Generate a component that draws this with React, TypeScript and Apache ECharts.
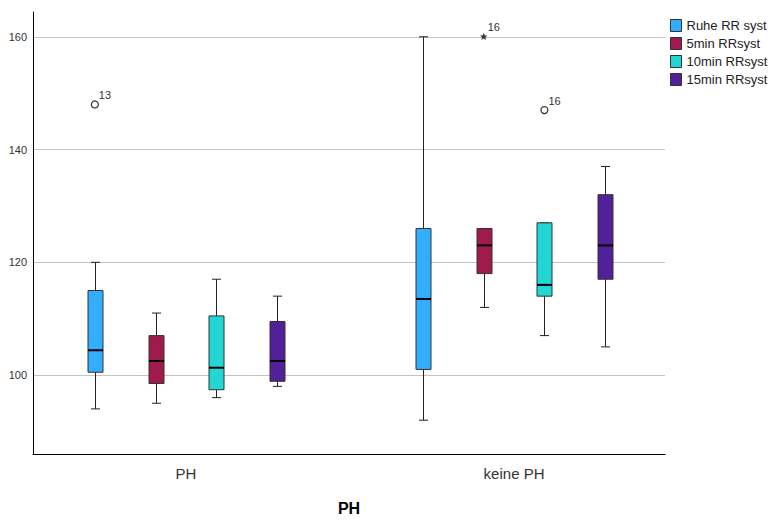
import React, { useEffect, useRef } from "react";
import * as echarts from "echarts";

const groups = ["PH", "keine PH"];
const seriesNames = ["Ruhe RR syst", "5min RRsyst", "10min RRsyst", "15min RRsyst"];
const colors = ["#33adff", "#a11a4d", "#22d7d3", "#52209a"];
// [min, q1, median, q3, max] per group (PH, keine PH)
const ruhe = [
  [94, 100.5, 104.4, 115, 120],
  [92, 101, 113.5, 126, 160],
];
const min5 = [
  [95, 98.5, 102.5, 107, 111],
  [112, 118, 123, 126, 126],
];
const min10 = [
  [96, 97.4, 101.3, 110.5, 117],
  [107, 114, 116, 127, 127],
];
const min15 = [
  [98, 98.9, 102.5, 109.5, 114],
  [105, 117, 123, 132, 137],
];
const allStats = [ruhe, min5, min10, min15];
// [groupIndex, seriesIndex, value, caseLabel, kind]
const outliers: [number, number, number, string, string][] = [
  [0, 0, 148, "13", "circle"],
  [1, 1, 160, "16", "star"],
  [1, 2, 147, "16", "circle"],
];
const yTicks = [100, 120, 140, 160];

const SLOT = 0.185;
const FONT = "Liberation Sans, Arial, sans-serif";

export default function App() {
  const ref = useRef<HTMLDivElement>(null);
  useEffect(() => {
    if (!ref.current) return;
    const chart = echarts.init(ref.current, null, { renderer: "svg" });

    const boxSeries = seriesNames.map((name, si) => ({
      name,
      type: "custom",
      itemStyle: { color: colors[si] },
      data: allStats[si].map((s, g) => [g, ...s]),
      encode: { x: 0, y: [1, 2, 3, 4, 5] },
      renderItem: (params: any, api: any) => {
        const g = api.value(0);
        const x = g + (si - 1.5) * SLOT;
        const pMin = api.coord([x, api.value(1)]);
        const pQ1 = api.coord([x, api.value(2)]);
        const pMed = api.coord([x, api.value(3)]);
        const pQ3 = api.coord([x, api.value(4)]);
        const pMax = api.coord([x, api.value(5)]);
        const cx = Math.round(pMin[0]) + 0.5;
        const hw = 7.5;
        const cap = 4.5;
        const ls = { stroke: "#222", lineWidth: 1 };
        return {
          type: "group",
          children: [
            { type: "line", shape: { x1: cx, y1: pMax[1], x2: cx, y2: pQ3[1] }, style: ls },
            { type: "line", shape: { x1: cx, y1: pQ1[1], x2: cx, y2: pMin[1] }, style: ls },
            { type: "line", shape: { x1: cx - cap, y1: pMax[1], x2: cx + cap, y2: pMax[1] }, style: ls },
            { type: "line", shape: { x1: cx - cap, y1: pMin[1], x2: cx + cap, y2: pMin[1] }, style: ls },
            {
              type: "rect",
              shape: { x: cx - hw, y: pQ3[1], width: hw * 2, height: pQ1[1] - pQ3[1] },
              style: { fill: colors[si], stroke: "#333", lineWidth: 1 },
            },
            {
              type: "line",
              shape: { x1: cx - hw, y1: pMed[1], x2: cx + hw, y2: pMed[1] },
              style: { stroke: "#000", lineWidth: 2 },
            },
          ],
        };
      },
    }));

    const outlierSeries = {
      name: "outliers",
      type: "custom",
      itemStyle: { color: "#333" },
      data: outliers.map((o) => [o[0], o[1], o[2]]),
      encode: { x: 0, y: 2 },
      renderItem: (params: any, api: any) => {
        const o = outliers[params.dataIndex];
        const x = o[0] + (o[1] - 1.5) * SLOT;
        const p = api.coord([x, o[2]]);
        const children: any[] = [];
        if (o[4] === "circle") {
          children.push({
            type: "circle",
            shape: { cx: p[0], cy: p[1], r: 3.5 },
            style: { fill: "#fff", stroke: "#333", lineWidth: 1.2 },
          });
        } else {
          const pts: number[][] = [];
          for (let k = 0; k < 10; k++) {
            const r = k % 2 === 0 ? 4 : 1.7;
            const a = -Math.PI / 2 + (k * Math.PI) / 5;
            pts.push([p[0] + r * Math.cos(a), p[1] + r * Math.sin(a)]);
          }
          children.push({ type: "polygon", shape: { points: pts }, style: { fill: "#333" } });
        }
        children.push({
          type: "text",
          x: p[0] + 4,
          y: p[1] - 4,
          style: {
            text: o[3],
            fill: "#333",
            font: `11px ${FONT}`,
            textAlign: "left",
            textVerticalAlign: "bottom",
          },
        });
        return { type: "group", children };
      },
    };

    chart.setOption({
      animation: false,
      backgroundColor: "#fff",
      grid: { left: 33, right: 108, top: 12, bottom: 60, containLabel: false },
      legend: {
        orient: "vertical",
        left: 670,
        top: 19,
        padding: 0,
        itemWidth: 11,
        itemHeight: 12,
        itemGap: 5,
        icon: "rect",
        textStyle: { fontSize: 13, color: "#222", fontFamily: FONT, lineHeight: 13 },
        data: seriesNames.map((n, i) => ({
          name: n,
          itemStyle: { color: colors[i], borderColor: "#333", borderWidth: 1 },
        })),
      },
      xAxis: {
        type: "value",
        min: -0.466,
        max: 1.46,
        axisLine: { show: true, onZero: false, lineStyle: { color: "#000", width: 1 } },
        axisTick: { show: false },
        splitLine: { show: false },
        axisLabel: {
          customValues: [0, 1],
          formatter: (v: number) => groups[Math.round(v)] ?? "",
          fontSize: 15,
          color: "#333",
          fontFamily: FONT,
          margin: 12,
        },
        name: "PH",
        nameLocation: "middle",
        nameGap: 46,
        nameTextStyle: { fontSize: 16, fontWeight: "bold", color: "#000", fontFamily: FONT },
      },
      yAxis: {
        type: "value",
        min: 86,
        max: 164.4,
        axisLine: { show: true, onZero: false, lineStyle: { color: "#000", width: 1 } },
        axisTick: { show: false, customValues: yTicks },
        splitLine: { show: true, lineStyle: { color: "#c4c4c4", width: 1 } },
        axisLabel: {
          customValues: yTicks,
          fontSize: 11,
          color: "#333",
          fontFamily: FONT,
          margin: 6,
        },
      },
      series: [...boxSeries, outlierSeries],
    });
    return () => chart.dispose();
  }, []);
  return <div ref={ref} style={{ width: 773, height: 521, position: "absolute", left: 0, top: 0 }} />;
}
